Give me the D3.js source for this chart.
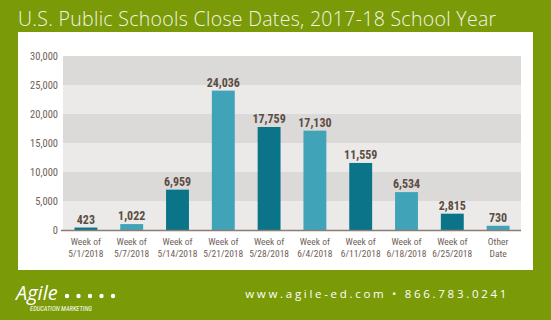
<!DOCTYPE html>
<html>
<head>
<meta charset="utf-8">
<script src="https://cdn.jsdelivr.net/npm/d3@7"></script>
<style>
  body { margin: 0; background: #7a9a08; }
  svg { display: block; }
</style>
</head>
<body>
<div id="chart"></div>
<script>
// Close dates by week
const weeks = ["Week of|5/1/2018", "Week of|5/7/2018", "Week of|5/14/2018", "Week of|5/21/2018",
  "Week of|5/28/2018", "Week of|6/4/2018", "Week of|6/11/2018", "Week of|6/18/2018",
  "Week of|6/25/2018", "Other|Date"];
const schools = [423, 1022, 6959, 24036, 17759, 17130, 11559, 6534, 2815, 730];
const yTicks = [0, 5000, 10000, 15000, 20000, 25000, 30000];

const width = 551, height = 320;
const narrow = "'Liberation Sans Narrow', 'Roboto Condensed', 'Arial Narrow', sans-serif";

const svg = d3.select("#chart").append("svg")
  .attr("width", width)
  .attr("height", height);

svg.append("rect").attr("width", width).attr("height", height).attr("fill", "#7a9a08");

// title
svg.append("text")
  .attr("x", 18).attr("y", 26)
  .attr("fill", "#f3f5e6")
  .attr("font-family", "'Open Sans', sans-serif")
  .attr("font-weight", 300)
  .attr("font-size", 19.5)
  .attr("letter-spacing", 0.3)
  .text("U.S. Public Schools Close Dates, 2017-18 School Year");

// white panel
svg.append("rect")
  .attr("x", 18).attr("y", 32)
  .attr("width", 515).attr("height", 238)
  .attr("fill", "#ffffff");

const x = d3.scaleBand()
  .domain(weeks)
  .range([63, 521])
  .paddingInner(0.5)
  .paddingOuter(0.25);

const y = d3.scaleLinear()
  .domain([0, 30000])
  .range([230, 56]);

// alternating bands
const bands = yTicks.slice(0, -1);
svg.append("g").selectAll("rect")
  .data(bands)
  .enter()
  .append("rect")
  .attr("x", 63)
  .attr("width", 458)
  .attr("y", d => y(d + 5000))
  .attr("height", d => y(d) - y(d + 5000))
  .attr("fill", (d, i) => i % 2 === 0 ? "#ebeae9" : "#dcdad8");

// y tick labels
svg.append("g").selectAll("text")
  .data(yTicks)
  .enter()
  .append("text")
  .attr("x", 58)
  .attr("y", d => y(d) + 4)
  .attr("text-anchor", "end")
  .attr("font-family", narrow)
  .attr("font-size", 10.5)
  .attr("fill", "#6e6158")
  .text(d => d3.format(",")(d));

// bars
svg.append("g").selectAll("rect")
  .data(schools)
  .enter()
  .append("rect")
  .attr("x", (d, i) => x(weeks[i]))
  .attr("width", x.bandwidth())
  .attr("y", d => y(d))
  .attr("height", d => y(0) - y(d))
  .attr("fill", (d, i) => i % 2 === 0 ? "#0b7489" : "#41a3b8");

// value labels
svg.append("g").selectAll("text")
  .data(schools)
  .enter()
  .append("text")
  .attr("x", (d, i) => x(weeks[i]) + x.bandwidth() / 2)
  .attr("y", d => y(d) - 4)
  .attr("text-anchor", "middle")
  .attr("font-family", narrow)
  .attr("font-weight", "bold")
  .attr("font-size", 12)
  .attr("fill", "#5b4d43")
  .text(d => d3.format(",")(d));

// baseline
svg.append("line")
  .attr("x1", 61).attr("x2", 521)
  .attr("y1", y(0) + 0.5).attr("y2", y(0) + 0.5)
  .attr("stroke", "#8a7e74")
  .attr("stroke-width", 1.5);

// x labels
const xl = svg.append("g").selectAll("text")
  .data(weeks)
  .enter()
  .append("text")
  .attr("text-anchor", "middle")
  .attr("font-family", narrow)
  .attr("font-size", 9.5)
  .attr("fill", "#6e6158");
xl.each(function(d) {
  const parts = d.split("|");
  const cx = x(d) + x.bandwidth() / 2;
  parts.forEach((p, j) => {
    d3.select(this).append("tspan")
      .attr("x", cx)
      .attr("y", 245 + j * 12)
      .text(p);
  });
});

// footer logo
svg.append("text")
  .attr("x", 16).attr("y", 300)
  .attr("fill", "#ffffff")
  .attr("font-family", "'Open Sans', sans-serif")
  .attr("font-style", "italic")
  .attr("font-size", 20)
  .text("Agile");
svg.append("g").selectAll("circle")
  .data([0, 1, 2, 3, 4])
  .enter()
  .append("circle")
  .attr("cx", d => 67 + d * 11.5)
  .attr("cy", 296)
  .attr("r", 2.2)
  .attr("fill", "#ffffff");
svg.append("text")
  .attr("x", 30).attr("y", 311)
  .attr("fill", "#ffffff")
  .attr("font-family", narrow)
  .attr("font-style", "italic")
  .attr("font-size", 6.5)
  .text("EDUCATION MARKETING");

svg.append("text")
  .attr("x", 509).attr("y", 298)
  .attr("text-anchor", "end")
  .attr("fill", "#ffffff")
  .attr("font-family", "'Open Sans', sans-serif")
  .attr("font-size", 11.5)
  .attr("letter-spacing", 2.7)
  .text("www.agile-ed.com \u2022 866.783.0241");
</script>
</body>
</html>
